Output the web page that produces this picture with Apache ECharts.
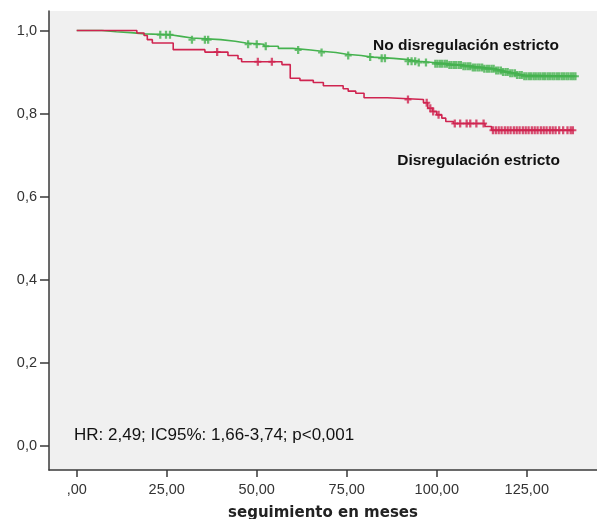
<!DOCTYPE html>
<html>
<head>
<meta charset="utf-8">
<script src="https://cdn.jsdelivr.net/npm/echarts@6/dist/echarts.min.js"></script>
<style>
  html, body { margin: 0; padding: 0; background: #ffffff; }
  #chart { width: 597px; height: 519px; }
</style>
</head>
<body>
<div id="chart"></div>
<script>
// Kaplan-Meier survival by group: event times (months) and survival after each step
const noDisTimes = [0, 7, 11, 15, 19, 26, 29, 32, 40, 44, 47, 52, 56, 60, 65, 68, 72, 75, 79, 82, 88, 92, 95, 99, 103, 107, 110, 113, 116, 118, 120, 122, 124, 138.5];
const noDisSurv  = [1.0, 0.997, 0.995, 0.992, 0.990, 0.986, 0.982, 0.978, 0.974, 0.970, 0.967, 0.962, 0.957, 0.953, 0.950, 0.947, 0.943, 0.940, 0.936, 0.933, 0.930, 0.926, 0.923, 0.920, 0.917, 0.914, 0.911, 0.908, 0.904, 0.900, 0.897, 0.893, 0.890, 0.890];

const disTimes = [0, 16.7, 18.7, 19.6, 21, 26.8, 35.6, 42, 44.8, 45.8, 57, 59.3, 62, 65.7, 68.5, 74, 75.4, 77.5, 79.8, 86.3, 96.3, 97.5, 98.8, 100, 101.4, 102.5, 104.6, 113.4, 115.2, 137.8];
const disSurv  = [1.0, 0.994, 0.988, 0.978, 0.970, 0.954, 0.948, 0.940, 0.932, 0.925, 0.918, 0.885, 0.880, 0.875, 0.867, 0.860, 0.854, 0.849, 0.838, 0.834, 0.826, 0.813, 0.805, 0.797, 0.789, 0.781, 0.776, 0.769, 0.760, 0.760];

// Censored observations (months)
const noDisCensored = [23.2, 24.8, 25.9, 32, 35.6, 36.5, 47.6, 50, 52.5, 61.5, 68, 75.4, 81.5, 84.7, 85.6, 92, 93, 94, 95, 97, 99.6,
  100.2, 100.9, 101.5, 102.2, 102.8, 103.5, 104.1, 104.8, 105.4, 106.1, 106.7, 107.4, 108.0, 108.7, 109.3, 110.0, 110.6, 111.3, 111.9,
  112.6, 113.2, 113.9, 114.5, 115.2, 115.8, 116.5, 117.1, 117.8, 118.4, 119.1, 119.7, 120.4, 121.0, 121.7, 122.3, 123.0, 123.6, 124.3,
  124.9, 125.6, 126.2, 126.9, 127.5, 128.2, 128.8, 129.5, 130.1, 130.8, 131.4, 132.1, 132.7, 133.4, 134.0, 134.7, 135.3, 136.0, 136.6,
  137.3, 137.9, 138.5];
const disCensored = [39, 50.3, 54.2, 92, 97.2, 98.2, 99, 100.5, 105, 106.5, 108.3, 109.3, 111, 113,
  115.6, 116.4, 117.2, 118.0, 118.9, 119.7, 120.5, 121.4, 122.2, 123.0, 123.9, 124.7, 125.5, 126.4, 127.2, 128.0, 128.9, 129.7,
  130.5, 131.4, 132.2, 133.0, 134.0, 135.1, 136.3, 137.2, 137.8];

// Axis ticks
const xTicks = [0, 25, 50, 75, 100, 125];
const yTicks = [0, 0.2, 0.4, 0.6, 0.8, 1.0];

const labelNoDis = 'No disregulación estricto';
const labelDis = 'Disregulación estricto';
const statsText = 'HR: 2,49; IC95%: 1,66-3,74; p<0,001';
const xTitle = 'seguimiento en meses';

const GREEN = '#45b24f';
const RED = '#cf2450';
const AXIS = '#3a3a3a';
const FONT = '"Liberation Sans", Arial, sans-serif';

function pairs(ts, ss) { return ts.map((t, i) => [t, ss[i]]); }
// survival level in force at time t (step curve lookup)
function survAt(ts, ss, t) {
  let v = ss[0];
  for (let i = 0; i < ts.length; i++) { if (ts[i] <= t) v = ss[i]; else break; }
  return v;
}
function censorPoints(cs, ts, ss) { return cs.map(t => [t, survAt(ts, ss, t)]); }

// "+" censor mark
const censorSymbol = 'path://M2.7,0H5.3V3H8V5H5.3V8H2.7V5H0V3H2.7Z';

const chart = echarts.init(document.getElementById('chart'), null, { renderer: 'canvas' });
chart.setOption({
  animation: false,
  backgroundColor: '#ffffff',
  grid: { left: 49, right: 0, top: 11, bottom: 49, show: true, backgroundColor: '#f0f0f0', borderWidth: 0,
    containLabel: false, outerBoundsMode: 'none' },
  xAxis: {
    type: 'value', min: -7.7, max: 144.5,
    name: xTitle, nameLocation: 'middle', nameGap: 36,
    nameTextStyle: { fontFamily: '"DejaVu Sans", Verdana, sans-serif', fontWeight: 'bold', fontSize: 15, color: '#222' },
    axisLine: { show: true, onZero: false, lineStyle: { color: AXIS, width: 1.5 } },
    axisTick: { show: true, inside: false, length: 7, customValues: xTicks, lineStyle: { color: AXIS, width: 1.5 } },
    axisLabel: { customValues: xTicks, margin: 12, fontFamily: FONT, fontSize: 14.5, color: '#333',
      formatter: v => (v === 0 ? ',00' : v.toFixed(2).replace('.', ',')) },
    splitLine: { show: false }
  },
  yAxis: {
    type: 'value', min: -0.058, max: 1.047,
    axisLine: { show: true, onZero: false, lineStyle: { color: AXIS, width: 1.5 } },
    axisTick: { show: true, inside: false, length: 9, customValues: yTicks, lineStyle: { color: AXIS, width: 1.5 } },
    axisLabel: { customValues: yTicks, margin: 12, fontFamily: FONT, fontSize: 14.5, color: '#333',
      formatter: v => v.toFixed(1).replace('.', ',') },
    splitLine: { show: false }
  },
  series: [
    { name: labelNoDis, type: 'line', step: 'end', showSymbol: false, data: pairs(noDisTimes, noDisSurv),
      lineStyle: { color: GREEN, width: 1.6 }, z: 2 },
    { name: labelNoDis + ' censurado', type: 'scatter', symbol: censorSymbol, symbolSize: [7, 8],
      data: censorPoints(noDisCensored, noDisTimes, noDisSurv), itemStyle: { color: GREEN }, z: 2 },
    { name: labelDis, type: 'line', step: 'end', showSymbol: false, data: pairs(disTimes, disSurv),
      lineStyle: { color: RED, width: 1.6 }, z: 3 },
    { name: labelDis + ' censurado', type: 'scatter', symbol: censorSymbol, symbolSize: [7, 8],
      data: censorPoints(disCensored, disTimes, disSurv), itemStyle: { color: RED }, z: 3 }
  ],
  graphic: [
    { type: 'text', right: 38, top: 38, z: 10,
      style: { text: labelNoDis, fill: '#111', font: 'bold 15.5px ' + FONT } },
    { type: 'text', right: 37, top: 153, z: 10,
      style: { text: labelDis, fill: '#111', font: 'bold 15.5px ' + FONT } },
    { type: 'text', left: 74, top: 427, z: 10,
      style: { text: statsText, fill: '#111', font: '17px ' + FONT } }
  ]
});
</script>
</body>
</html>
